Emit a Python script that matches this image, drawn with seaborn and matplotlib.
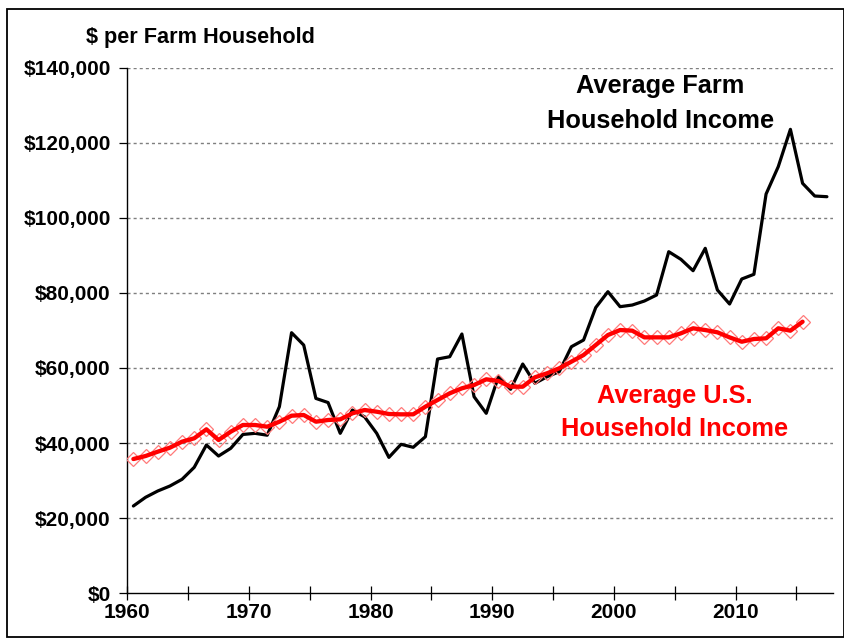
import matplotlib
matplotlib.use("Agg")
import matplotlib.pyplot as plt
import seaborn as sns
import pandas as pd
import numpy as np
from matplotlib.patches import Rectangle

farm_years = list(range(1960, 2018))
farm_income = [23250, 25560, 27240, 28570, 30360, 33550, 39490, 36560, 38610, 42300,
               42600, 42100, 49700, 69400, 66100, 51900, 50800, 42600, 48800, 47000,
               42600, 36200, 39680, 38880, 41700, 62390, 63010, 69050, 52360, 47930,
               57680, 54330, 61060, 55920, 57680, 59010, 65670, 67450, 76100, 80320,
               76330, 76770, 77840, 79440, 90970, 88940, 85910, 91870, 80770, 77040,
               83700, 84950, 106330, 113610, 123560, 109180, 105800, 105620]

us_years = list(range(1960, 2016))
us_income = [35760, 36560, 37710, 38780, 40380, 41280, 43670, 40820, 43040, 44820,
             44820, 44370, 45700, 47300, 47480, 45700, 46150, 46330, 47930, 48810,
             48360, 47750, 47660, 47660, 49700, 51480, 53260, 54590, 55470, 56990,
             56540, 55020, 55020, 57520, 58590, 59920, 61690, 63460, 66120, 68780,
             70110, 69940, 68160, 68160, 68160, 69240, 70570, 70110, 69500, 68160,
             67000, 67720, 67900, 70570, 69940, 72330]

y_ticks = [0, 20000, 40000, 60000, 80000, 100000, 120000, 140000]
x_ticks = list(range(1960, 2016, 5))
x_labels = ["1960", "", "1970", "", "1980", "", "1990", "", "2000", "", "2010", ""]

farm_label = ["Average Farm", "Household Income"]
us_label = ["Average U.S.", "Household Income"]
y_title = "$ per Farm Household"

sns.set_theme(style="white")
plt.rcParams["font.family"] = ["Liberation Sans", "DejaVu Sans"]
plt.rcParams["font.weight"] = "bold"

fig = plt.figure(figsize=(8.45, 6.39), dpi=100)
ax = fig.add_axes([127.3 / 845, 1 - 593.3 / 639, (833 - 127.3) / 845, (593.3 - 67.6) / 639])

# mid-year positioning (points sit between ticks as in the source)
farm_df = pd.DataFrame({"x": np.array(farm_years) + 0.5, "v": farm_income})
us_df = pd.DataFrame({"x": np.array(us_years) + 0.5, "v": us_income})

for yt in y_ticks[1:]:
    ax.axhline(yt, color="#7f7f7f", lw=1.0, ls=(0, (2.2, 2.2)), zorder=0)

sns.lineplot(data=farm_df, x="x", y="v", ax=ax, color="black", lw=2.3, zorder=3)
# diamond markers underneath the thick red line
sns.lineplot(data=us_df, x="x", y="v", ax=ax, lw=0, zorder=4,
             marker="D", markersize=7.5, markerfacecolor="none",
             markeredgecolor="#ff7a7a", markeredgewidth=0.9, color="#ff7a7a")
sns.lineplot(data=us_df, x="x", y="v", ax=ax, color="#ff0000", lw=3.1, zorder=5)

ax.set_xlim(1960, 2018)
ax.set_ylim(0, 140000)
ax.set_xticks(x_ticks)
ax.set_xticklabels(x_labels)
ax.set_yticks(y_ticks)
ax.set_yticklabels(["${:,.0f}".format(v) for v in y_ticks])
ax.set_xlabel("")
ax.set_ylabel("")

for s in ["top", "right"]:
    ax.spines[s].set_visible(False)
for s in ["left", "bottom"]:
    ax.spines[s].set_color("black")
    ax.spines[s].set_linewidth(1.0)

ax.tick_params(axis="x", direction="inout", length=10, width=0.9, colors="black",
               labelsize=15, pad=2, bottom=True)
ax.tick_params(axis="y", direction="out", length=6, width=0.9, colors="black",
               labelsize=15, pad=6, left=True)
for lab in ax.get_xticklabels() + ax.get_yticklabels():
    lab.set_fontweight("bold")
    lab.set_color("black")

ax.text(2003.8, 135100, farm_label[0], ha="center", va="center", fontsize=18.3,
        fontweight="bold", color="black")
ax.text(2003.8, 125800, farm_label[1], ha="center", va="center", fontsize=18.3,
        fontweight="bold", color="black")
ax.text(2005.0, 52540, us_label[0], ha="center", va="center", fontsize=18.3,
        fontweight="bold", color="#ff0000")
ax.text(2005.0, 43750, us_label[1], ha="center", va="center", fontsize=18.3,
        fontweight="bold", color="#ff0000")

fig.text(200 / 845, 1 - 38 / 639, y_title, ha="center", va="center", fontsize=15.6,
         fontweight="bold", color="black")

fig.patches.append(Rectangle((7 / 845, 1 - 637 / 639), (844 - 7) / 845, (637 - 9) / 639,
                             transform=fig.transFigure, fill=False, edgecolor="black",
                             lw=1.3, zorder=10))

fig.savefig("out.png", dpi=100)
